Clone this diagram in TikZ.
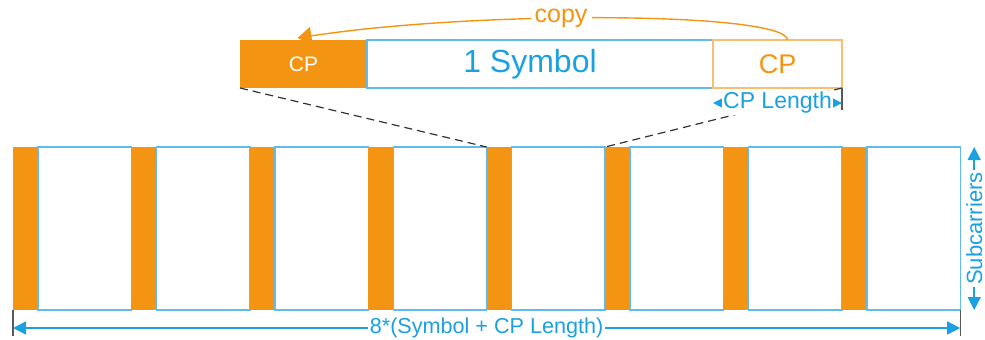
\documentclass[tikz,border=0pt]{standalone}
\usepackage{fontspec}
\setmainfont{Liberation Sans}
\usetikzlibrary{positioning,arrows.meta}
\definecolor{cporange}{RGB}{243, 149, 18}
\definecolor{symblue}{RGB}{27, 161, 226}
\definecolor{lineblue}{RGB}{95, 188, 236}

\tikzset{
  cpbar/.style={fill=cporange, minimum width=12.5pt, minimum height=81.5pt, inner sep=0pt, outer sep=0pt},
  symbar/.style={draw=lineblue, line width=0.7pt, fill=white, minimum width=46.7pt, minimum height=81.5pt, inner sep=0pt, outer sep=0pt},
  dimarrow/.style={draw=symblue, line width=0.75pt, {Triangle[width=6.5pt,length=6.5pt]}-{Triangle[width=6.5pt,length=6.5pt]}},
  tick/.style={draw=gray!70!black, line width=0.6pt}
}

\begin{document}
\begin{tikzpicture}[x=0.5pt, y=-0.5pt]
  \useasboundingbox (0,0) rectangle (985,339);
  % bottom row of cp + symbol blocks
  \foreach \i in {0,...,7} {
    \node[cpbar] (cp\i) at ({25.5+118.4*\i},228.5) {};
    \node[symbar] (sym\i) at ({84.7+118.4*\i},228.5) {};
  }
  % zoomed symbol on top
  \node[fill=cporange, minimum width=63.5pt, minimum height=24pt, inner sep=0pt, outer sep=0pt,
        text=white, font=\fontsize{10.5}{12}\selectfont] (cpL) at (303.5,64) {CP};
  \node[draw=lineblue, line width=0.7pt, minimum width=173pt, minimum height=24pt, inner sep=0pt, outer sep=0pt,
        text=symblue, font=\fontsize{16}{18}\selectfont, right=0pt of cpL] (symT) {\hspace*{-10pt}1 Symbol};
  \node[draw=cporange!60, line width=0.7pt, minimum width=64.5pt, minimum height=24pt, inner sep=0pt, outer sep=0pt,
        text=cporange, font=\fontsize{13.5}{15}\selectfont, right=0pt of symT] (cpR) {CP};
  % zoom lines
  \draw[dashed, dash pattern=on 4pt off 2.5pt, gray!40!black, line width=0.6pt] (cpL.south west) -- (cp4.north west);
  \draw[dashed, dash pattern=on 4pt off 2.5pt, gray!40!black, line width=0.6pt] (cpR.south east) -- (sym4.north east);
  % copy arrow
  \draw[cporange, line width=0.7pt, -{Triangle[width=9pt,length=7pt]}] ([xshift=5pt]cpR.north)
    .. controls (786,12) and (480,10) .. ([xshift=-3pt,yshift=1pt]cpL.north)
    node[pos=0.58, fill=white, inner sep=2pt, font=\fontsize{12.5}{14}\selectfont] (copy) {copy};
  % cp length
  \draw[tick] (cpR.south east) -- ++(0,22);
  \draw[dimarrow] ([yshift=-7.5pt]cpR.south west) -- ([yshift=-7.5pt]cpR.south east)
    node[midway, fill=white, inner sep=0.5pt, text=symblue, font=\fontsize{11.5}{13}\selectfont] (cplen) {CP Length};
  % total length
  \draw[tick] (cp0.south west) -- ++(0,26);
  \draw[tick] (sym7.south east) -- ++(0,26);
  \draw[dimarrow] ([yshift=-9pt]cp0.south west) -- ([yshift=-9pt]sym7.south east)
    node[midway, fill=white, inner sep=1pt, text=symblue, font=\fontsize{10.8}{12}\selectfont] (total) {8*(Symbol + CP Length)};
  % subcarriers
  \draw[dimarrow] ([xshift=7pt]sym7.north east) -- ([xshift=7pt]sym7.south east)
    node[midway, rotate=90, fill=white, inner sep=1pt, text=symblue, font=\fontsize{11}{13}\selectfont] (sub) {Subcarriers};
\end{tikzpicture}
\end{document}
